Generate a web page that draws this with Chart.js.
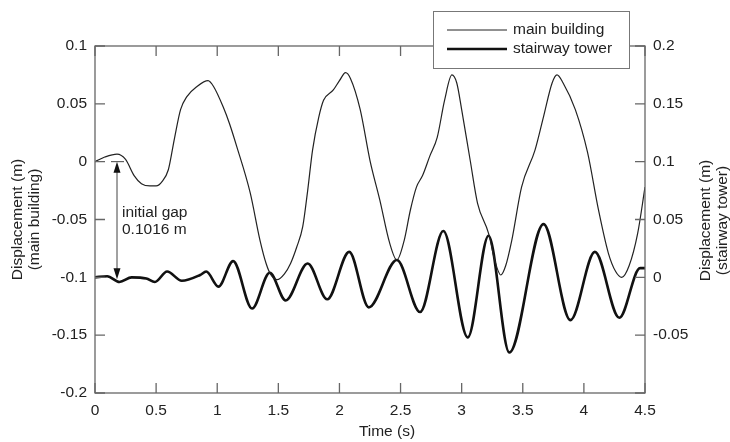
<!DOCTYPE html>
<html>
<head>
<meta charset="utf-8">
<script src="https://cdn.jsdelivr.net/npm/chart.js@4"></script>
<style>
  body { margin: 0; background: #fff; }
  #chart { display: block; }
</style>
</head>
<body>
<canvas id="chart" width="730" height="442"></canvas>
<script>
// Main building displacement (left axis)
let mainTime = [0, 0.08, 0.18, 0.25, 0.32, 0.38, 0.45, 0.5, 0.55, 0.6, 0.65, 0.7, 0.75, 0.835, 0.925, 0.97,
  1.05, 1.1, 1.16, 1.27, 1.35, 1.4, 1.44, 1.49, 1.55, 1.6, 1.65, 1.7, 1.74, 1.78, 1.83, 1.87, 1.95, 2.0,
  2.05, 2.09, 2.17, 2.25, 2.33, 2.41, 2.47, 2.53, 2.58, 2.63, 2.68, 2.74, 2.8, 2.86, 2.92, 2.96, 3.0, 3.07,
  3.13, 3.22, 3.27, 3.32, 3.36, 3.41, 3.49, 3.6, 3.67, 3.74, 3.78, 3.83, 3.93, 4.03, 4.12, 4.2, 4.26, 4.31,
  4.37, 4.44, 4.5];
let mainDisp = [0, 0.004, 0.0066, 0.002, -0.012, -0.019, -0.021, -0.021, -0.017, -0.007, 0.02, 0.045, 0.056, 0.065, 0.07, 0.065,
  0.047, 0.033, 0.013, -0.027, -0.068, -0.088, -0.098, -0.102, -0.097, -0.088, -0.074, -0.056, -0.025, 0.01, 0.038, 0.053, 0.062, 0.07,
  0.077, 0.072, 0.045, 0.001, -0.033, -0.07, -0.085, -0.068, -0.042, -0.022, -0.012, 0.005, 0.021, 0.053, 0.075, 0.068, 0.045, 0.001,
  -0.036, -0.062, -0.085, -0.098, -0.09, -0.068, -0.022, 0.01, 0.039, 0.068, 0.075, 0.068, 0.045, 0.008, -0.042, -0.079, -0.095, -0.1,
  -0.09, -0.062, -0.022];

// Stairway tower displacement (right axis)
let towerTime = [0, 0.1, 0.2, 0.3, 0.42, 0.49, 0.59, 0.71, 0.86, 0.91, 1.01, 1.13, 1.285, 1.43, 1.56, 1.74, 1.9,
  2.08, 2.24, 2.47, 2.66, 2.85, 3.05, 3.22, 3.39, 3.67, 3.89, 4.09, 4.29, 4.46, 4.5];
let towerDisp = [0, 0.001, -0.004, 0, -0.001, -0.004, 0.005, -0.003, 0.002, 0.005, -0.008, 0.014, -0.027, 0.004, -0.02, 0.012, -0.019,
  0.022, -0.026, 0.015, -0.03, 0.04, -0.052, 0.036, -0.065, 0.046, -0.037, 0.022, -0.035, 0.008, 0.008];

// Initial gap annotation
let gapTime = 0.18;
let gapValue = 0.1016;
let gapLabel = ["initial gap", "0.1016 m"];

let seriesNames = ["main building", "stairway tower"];
let xTitle = "Time (s)";
let rightTitle = ["Displacement (m)", "(stairway tower)"];

const textColor = "#222";
const axisColor = "#666";
const tickLen = 10;
const fontSpec = "15.5px 'Liberation Sans', Arial, sans-serif";

Chart.defaults.font.family = "'Liberation Sans', Arial, sans-serif";
Chart.defaults.font.size = 15.5;
Chart.defaults.color = textColor;

// plain number labels: 0.1, 0, -0.05, 1, 4.5
function plainTick(v) {
  return String(Math.round(v * 1000) / 1000);
}

// inward tick marks on all four sides plus the box
const frameTicks = {
  id: "frameTicks",
  afterDatasetsDraw(chart) {
    const { ctx, chartArea: a, scales } = chart;
    ctx.save();
    ctx.strokeStyle = axisColor;
    ctx.lineWidth = 1.3;
    ctx.strokeRect(a.left, a.top, a.right - a.left, a.bottom - a.top);
    ctx.beginPath();
    scales.x.ticks.forEach(t => {
      const px = scales.x.getPixelForValue(t.value);
      ctx.moveTo(px, a.bottom); ctx.lineTo(px, a.bottom - tickLen);
      ctx.moveTo(px, a.top); ctx.lineTo(px, a.top + tickLen);
    });
    scales.y.ticks.forEach(t => {
      const py = scales.y.getPixelForValue(t.value);
      ctx.moveTo(a.left, py); ctx.lineTo(a.left + tickLen, py);
    });
    scales.y2.ticks.forEach(t => {
      const py = scales.y2.getPixelForValue(t.value);
      ctx.moveTo(a.right, py); ctx.lineTo(a.right - tickLen, py);
    });
    ctx.stroke();

    // initial gap arrow
    const gx = scales.x.getPixelForValue(gapTime);
    const gTop = scales.y.getPixelForValue(0);
    const gBot = scales.y.getPixelForValue(-gapValue);
    ctx.strokeStyle = "#444";
    ctx.fillStyle = "#111";
    ctx.lineWidth = 1;
    ctx.beginPath();
    ctx.moveTo(gx - 6, gTop); ctx.lineTo(gx + 7, gTop);
    ctx.moveTo(gx, gTop + 8); ctx.lineTo(gx, gBot - 8);
    ctx.stroke();
    ctx.beginPath();
    ctx.moveTo(gx, gTop); ctx.lineTo(gx - 3.5, gTop + 11); ctx.lineTo(gx + 3.5, gTop + 11); ctx.closePath();
    ctx.moveTo(gx, gBot); ctx.lineTo(gx - 3.5, gBot - 11); ctx.lineTo(gx + 3.5, gBot - 11); ctx.closePath();
    ctx.fill();
    ctx.fillStyle = textColor;
    ctx.font = fontSpec;
    ctx.textAlign = "left";
    ctx.textBaseline = "middle";
    ctx.fillText(gapLabel[0], gx + 5, 213);
    ctx.fillText(gapLabel[1], gx + 5, 230);

    // x axis title (sits a little right of centre in the original)
    ctx.textAlign = "center";
    ctx.fillText(xTitle, 387, 432);

    // right axis title, reading upwards
    const cy = (a.top + a.bottom) / 2 + 1;
    ctx.save();
    ctx.translate(706, cy);
    ctx.rotate(-Math.PI / 2);
    ctx.fillText(rightTitle[0], 0, 0);
    ctx.fillText(rightTitle[1], 0, 16.5);
    ctx.restore();

    // legend box
    ctx.fillStyle = "#fff";
    ctx.fillRect(433, 11, 196, 57);
    ctx.strokeStyle = "#777";
    ctx.lineWidth = 1;
    ctx.strokeRect(433.5, 11.5, 196, 57);
    ctx.textAlign = "left";
    chart.data.datasets.forEach((ds, i) => {
      const ly = 30 + i * 19;
      ctx.strokeStyle = ds.borderColor;
      ctx.lineWidth = i === 0 ? 1 : ds.borderWidth;
      ctx.beginPath();
      ctx.moveTo(447, ly); ctx.lineTo(507, ly);
      ctx.stroke();
      ctx.fillStyle = textColor;
      ctx.fillText(ds.label, 513, ly);
    });
    ctx.restore();
  }
};

new Chart("chart", {
  type: "line",
  data: {
    datasets: [{
      label: seriesNames[0],
      data: mainTime.map((t, i) => ({ x: t, y: mainDisp[i] })),
      yAxisID: "y",
      borderColor: "#222",
      borderWidth: 1.2,
      pointRadius: 0,
      cubicInterpolationMode: "monotone"
    }, {
      label: seriesNames[1],
      data: towerTime.map((t, i) => ({ x: t, y: towerDisp[i] })),
      yAxisID: "y2",
      borderColor: "#111",
      borderWidth: 2.6,
      pointRadius: 0,
      cubicInterpolationMode: "monotone"
    }]
  },
  options: {
    responsive: false,
    animation: false,
    devicePixelRatio: 1,
    layout: { padding: { top: 46, left: 0, right: 0, bottom: 0 } },
    plugins: {
      legend: { display: false },
      tooltip: { enabled: false }
    },
    scales: {
      x: {
        type: "linear",
        min: 0,
        max: 4.5,
        ticks: { stepSize: 0.5, padding: 8, maxRotation: 0, callback: plainTick },
        grid: { display: false, drawTicks: false },
        border: { display: false },
        afterFit: s => { s.height = 49; }
      },
      y: {
        position: "left",
        min: -0.2,
        max: 0.1,
        ticks: { stepSize: 0.05, padding: 8, callback: plainTick },
        grid: { display: false, drawTicks: false },
        border: { display: false },
        title: {
          display: true,
          text: ["Displacement (m)", "(main building)"],
          font: { lineHeight: 1.05 },
          padding: { top: 10, bottom: 0 }
        },
        afterFit: s => { s.width = 95; }
      },
      y2: {
        position: "right",
        min: -0.1,
        max: 0.2,
        ticks: {
          stepSize: 0.05,
          padding: 8,
          callback: v => (Math.abs(v + 0.1) < 1e-9 ? "" : plainTick(v))
        },
        grid: { display: false, drawTicks: false },
        border: { display: false },
        afterFit: s => { s.width = 85; }
      }
    }
  },
  plugins: [frameTicks]
});
</script>
</body>
</html>
